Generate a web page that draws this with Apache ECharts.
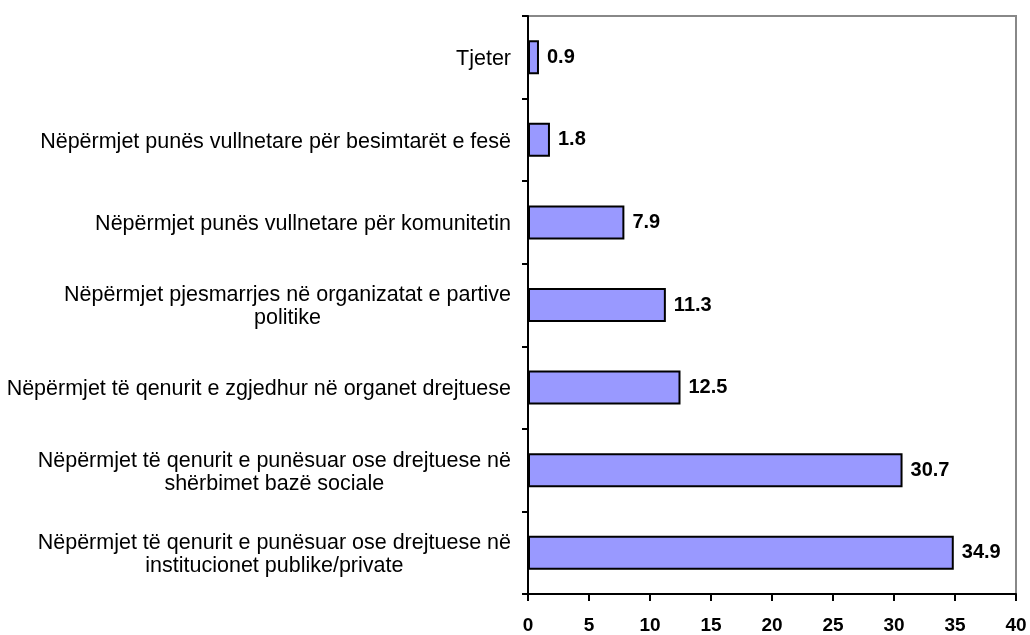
<!DOCTYPE html>
<html>
<head>
<meta charset="utf-8">
<script src="https://cdn.jsdelivr.net/npm/echarts@6/dist/echarts.min.js"></script>
<style>
  html, body { margin: 0; padding: 0; background: #fff; }
  #chart { width: 1030px; height: 635px; }
</style>
</head>
<body>
<div id="chart"></div>
<script>
// categories from top to bottom
const categories = [
  'Tjeter',
  'Nëpërmjet punës vullnetare për besimtarët e fesë',
  'Nëpërmjet punës vullnetare për komunitetin',
  'Nëpërmjet pjesmarrjes në organizatat e partive\npolitike',
  'Nëpërmjet të qenurit e zgjedhur në organet drejtuese',
  'Nëpërmjet të qenurit e punësuar ose drejtuese në\nshërbimet bazë sociale',
  'Nëpërmjet të qenurit e punësuar ose drejtuese në\ninstitucionet publike/private'
];
const values = [0.9, 1.8, 7.9, 11.3, 12.5, 30.7, 34.9];

const chart = echarts.init(document.getElementById('chart'));
chart.setOption({
  animation: false,
  backgroundColor: '#fff',
  textStyle: { fontFamily: 'Liberation Sans, Arial, sans-serif' },
  grid: {
    left: 528, right: 14, top: 16, bottom: 40,
    show: true,
    borderColor: '#888',
    borderWidth: 2
  },
  xAxis: {
    type: 'value',
    min: 0, max: 40, interval: 5,
    splitLine: { show: false },
    axisLine: { show: true, lineStyle: { color: '#000', width: 2 } },
    axisTick: { show: true, inside: false, length: 7, lineStyle: { color: '#000', width: 2 } },
    axisLabel: { color: '#000', fontSize: 19, fontWeight: 'bold', margin: 22 }
  },
  yAxis: {
    type: 'category',
    inverse: true,
    data: categories,
    axisLine: { show: true, lineStyle: { color: '#000', width: 2 } },
    axisTick: { show: true, length: 6, lineStyle: { color: '#000', width: 2 } },
    axisLabel: {
      color: '#000',
      fontSize: 21.5,
      margin: 17,
      lineHeight: 23,
      align: 'right',
      formatter: function (v) {
        return v.split('\n').map(function (s) { return '{c|' + s + '}'; }).join('\n');
      },
      rich: {
        c: { align: 'center', fontSize: 21.5, lineHeight: 23, color: '#000', padding: [4, 0, 0, 0] }
      }
    }
  },
  series: [{
    type: 'bar',
    data: values,
    barWidth: 34,
    itemStyle: { color: '#9999FF', borderColor: '#000', borderWidth: 2 },
    label: {
      show: true,
      position: 'right',
      distance: 8,
      color: '#000',
      fontSize: 20,
      fontWeight: 'bold',
      formatter: function (p) { return p.value.toFixed(1); }
    }
  }]
});
</script>
</body>
</html>
